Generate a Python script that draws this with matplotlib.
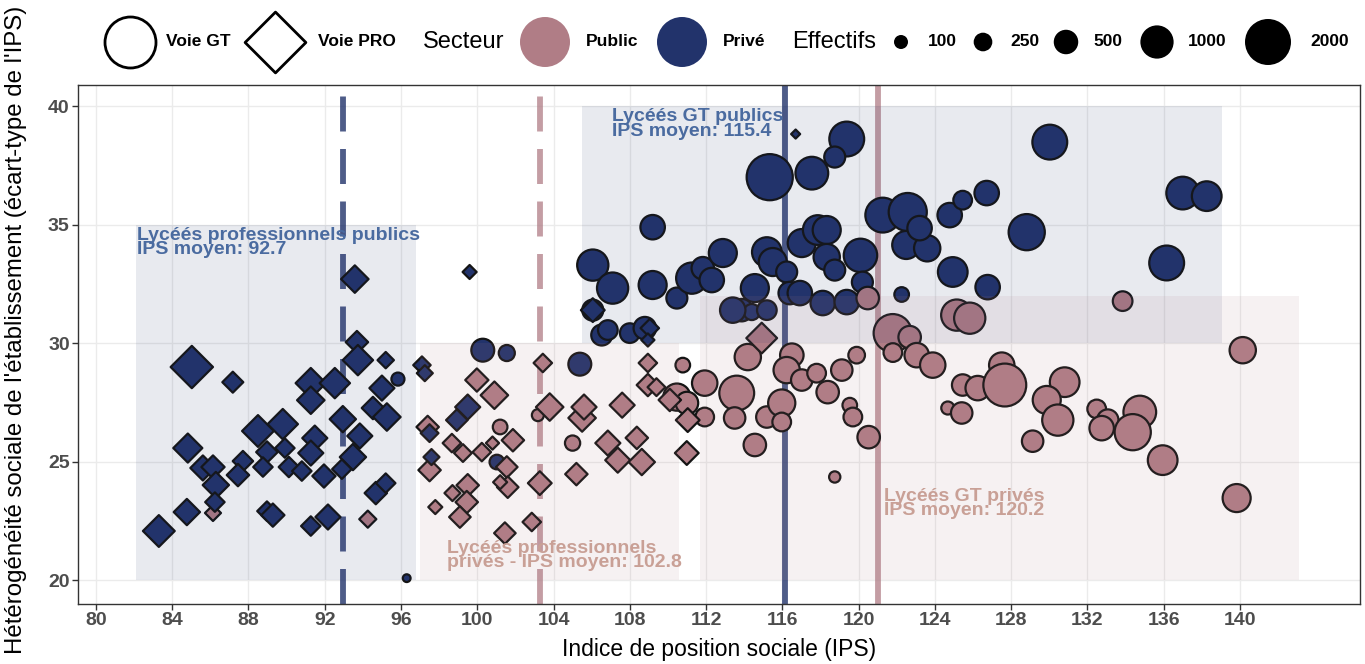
import numpy as np
import matplotlib
matplotlib.use('Agg')
import matplotlib.pyplot as plt
import matplotlib.patches as patches

plt.rcParams['font.family'] = ['Liberation Sans', 'DejaVu Sans']

NAVY = '#22336b'
PINK = '#b07d86'
EDGE = '#141414'

# --- data (IPS, heterogeneity, headcount) ---
# Voie PRO, secteur privé (navy diamonds)
pro_prive_ips = [93.58, 85.03, 87.18, 93.69, 93.74, 95.2, 97.1, 97.25, 91.27, 92.53,
                 91.27, 95.0, 94.53, 95.26, 92.95, 93.84, 88.5, 89.8, 91.48, 84.82,
                 87.71, 88.97, 89.91, 91.27, 93.48, 85.61, 86.14, 87.45, 88.76, 90.12,
                 90.8, 91.96, 92.9, 86.29, 86.24, 94.68, 95.2, 84.77, 88.97, 89.28,
                 83.3, 91.27, 92.17, 97.5, 97.6, 99.6, 99.5, 98.93, 106.06, 109.05,
                 108.95, 116.7]
pro_prive_het = [32.7, 28.99, 28.35, 30.04, 29.28, 29.28, 29.07, 28.73, 28.31, 28.31,
                 27.59, 28.1, 27.26, 26.88, 26.79, 26.08, 26.29, 26.58, 25.99, 25.57,
                 25.02, 25.4, 25.57, 25.36, 25.19, 24.73, 24.77, 24.43, 24.77, 24.77,
                 24.6, 24.39, 24.68, 24.01, 23.29, 23.67, 24.09, 22.87, 22.91, 22.74,
                 22.07, 22.28, 22.66, 26.2, 25.19, 33.0, 27.3, 26.75, 31.39, 30.63,
                 30.13, 38.82]
pro_prive_eff = [550, 1350, 300, 350, 680, 160, 190, 150, 680, 680,
                 550, 450, 350, 550, 500, 450, 750, 680, 450, 620,
                 280, 320, 250, 450, 500, 450, 380, 350, 250, 280,
                 250, 380, 250, 500, 250, 350, 250, 500, 250, 380,
                 750, 250, 450, 200, 150, 100, 450, 320, 400, 220,
                 80, 0]

# Voie PRO, secteur public (pink diamonds)
pro_public_ips = [86.14, 94.26, 97.8, 97.4, 97.5, 103.44, 108.95, 99.98, 100.9, 103.8,
                  105.5, 105.6, 107.6, 108.95, 109.4, 110.1, 111.04, 98.67, 99.25, 100.24,
                  101.87, 100.8, 101.55, 101.6, 101.2, 105.2, 103.28, 106.85, 108.37, 107.37,
                  108.63, 110.99, 99.5, 98.7, 99.45, 99.09, 101.45, 102.86, 114.92]
pro_public_het = [22.83, 22.57, 23.08, 26.46, 24.64, 29.16, 29.16, 28.44, 27.8, 27.3,
                  26.84, 27.3, 27.38, 28.23, 28.14, 27.6, 26.75, 25.78, 25.36, 25.4,
                  25.9, 25.78, 24.77, 23.92, 24.13, 24.47, 24.09, 25.78, 26.0, 25.06,
                  24.98, 25.36, 24.0, 23.67, 23.29, 22.66, 21.98, 22.45, 30.21]
pro_public_eff = [150, 180, 100, 350, 350, 220, 220, 380, 550, 550,
                  550, 450, 450, 350, 200, 350, 400, 220, 200, 220,
                  350, 80, 320, 320, 100, 350, 400, 450, 350, 450,
                  500, 400, 350, 150, 350, 320, 320, 220, 700]

# Voie GT, secteur privé (navy circles)
gt_prive_ips = [95.84, 96.3, 100.29, 101.55, 105.38, 101.03, 109.2, 106.06, 107.1, 106.06,
                106.53, 106.85, 108.0, 108.79, 109.2, 110.47, 111.25, 111.83, 112.88, 112.3,
                114.56, 113.87, 114.4, 115.19, 113.4, 115.19, 115.5, 116.23, 116.39, 116.92,
                117.02, 117.86, 118.33, 118.33, 118.75, 118.12, 119.38, 120.1, 120.2, 122.26,
                119.38, 118.75, 117.55, 115.34, 121.27, 122.58, 122.5, 123.6, 123.2, 124.78,
                125.46, 124.94, 126.72, 126.77, 130.03, 128.82, 137.0, 138.26, 136.16]
gt_prive_het = [28.48, 20.08, 29.7, 29.58, 29.11, 24.98, 34.89, 33.29, 32.32, 31.39,
                30.34, 30.55, 30.42, 30.63, 32.45, 31.9, 32.74, 33.16, 33.8, 32.66,
                32.32, 31.39, 31.31, 31.39, 31.39, 33.84, 33.42, 33.0, 32.11, 32.11,
                34.22, 34.77, 34.77, 33.63, 33.08, 31.69, 31.73, 33.7, 32.57, 32.05,
                38.61, 37.85, 37.17, 37.0, 35.4, 35.53, 34.14, 34.0, 34.85, 35.4,
                36.03, 33.0, 36.33, 32.36, 38.48, 34.68, 36.33, 36.2, 33.38]
gt_prive_eff = [130, 0, 520, 230, 520, 180, 600, 1000, 1000, 430,
                430, 370, 370, 500, 800, 430, 1000, 500, 800, 600,
                800, 500, 230, 370, 650, 900, 800, 430, 500, 600,
                800, 900, 800, 700, 430, 600, 600, 1150, 430, 180,
                1250, 430, 1100, 2200, 1250, 1500, 800, 700, 600, 600,
                330, 900, 600, 600, 1250, 1350, 1100, 900, 1250]

# Voie GT, secteur public (pink circles)
gt_public_ips = [103.18, 101.2, 105.0, 110.78, 111.93, 110.47, 111.0, 111.93, 113.61, 113.5,
                 114.56, 115.19, 115.97, 115.97, 114.19, 116.5, 116.23, 117.02, 117.8, 119.12,
                 119.9, 118.38, 119.54, 119.7, 120.53, 118.75, 120.48, 121.79, 122.68, 121.8,
                 123.05, 123.89, 125.15, 125.83, 127.51, 125.46, 126.25, 127.67, 124.68, 125.41,
                 129.13, 133.85, 140.15, 130.81, 129.87, 130.45, 132.49, 133.07, 132.75, 134.75,
                 134.38, 135.95, 139.83]
gt_public_het = [26.96, 26.46, 25.78, 29.07, 28.31, 27.72, 27.47, 26.88, 27.89, 26.84,
                 25.7, 26.88, 27.47, 26.67, 29.41, 29.49, 28.86, 28.44, 28.73, 28.86,
                 29.49, 27.93, 27.38, 26.88, 26.03, 24.35, 31.9, 30.42, 30.25, 29.6,
                 29.49, 29.07, 31.18, 31.05, 29.07, 28.23, 28.1, 28.23, 27.26, 27.05,
                 25.86, 31.77, 29.7, 28.35, 27.6, 26.75, 27.22, 26.75, 26.41, 27.09,
                 26.24, 25.06, 23.46]
gt_public_eff = [100, 180, 200, 180, 650, 750, 500, 330, 1250, 450,
                 500, 450, 750, 330, 700, 550, 700, 450, 330, 450,
                 250, 500, 180, 330, 500, 80, 500, 1500, 500, 330,
                 600, 650, 1000, 1000, 650, 450, 600, 1900, 130, 450,
                 450, 370, 700, 900, 800, 1000, 330, 450, 600, 1100,
                 1350, 900, 800]

# group zones (xmin, xmax, ymin, ymax)
zone_pro_public = (82.1, 96.8, 20.0, 35.0)
zone_pro_prive = (97.0, 110.6, 20.0, 30.0)
zone_gt_public = (105.5, 139.05, 30.0, 40.0)
zone_gt_prive = (111.7, 143.1, 20.0, 32.0)
# where the mean lines sit on the chart (labels quote the printed means)
line_pro_public = 92.97
line_pro_prive = 103.28
line_gt_public = 116.13
line_gt_prive = 121.02

legend_eff = [100, 250, 500, 1000, 2000]


def size_of(eff, edge=2):
    # marker area (points^2) growing linearly with headcount
    eff = np.asarray(eff, dtype=float)
    d_px = np.sqrt(95 + 1.01 * eff) - edge
    return (d_px * 0.72) ** 2


fig = plt.figure(figsize=(13.65, 6.64), dpi=100)
ax = fig.add_axes([78 / 1365, 60 / 664, 1282 / 1365, 519 / 664])

# mean lines (under the points)
ax.axvline(line_pro_public, color=NAVY, alpha=0.8, lw=4.2, ls=(0, (6, 3)), zorder=2)
ax.axvline(line_pro_prive, color=PINK, alpha=0.75, lw=4.2, ls=(0, (6, 3)), zorder=2)
ax.axvline(line_gt_public, color=NAVY, alpha=0.8, lw=4.2, zorder=2)
ax.axvline(line_gt_prive, color=PINK, alpha=0.75, lw=4.2, zorder=2)

pt = dict(edgecolors=EDGE, linewidths=1.6, zorder=3)
ax.scatter(gt_prive_ips, gt_prive_het, s=size_of(gt_prive_eff), marker='o', c=NAVY, **pt)
ax.scatter(gt_public_ips, gt_public_het, s=size_of(gt_public_eff), marker='o', c=PINK, **pt)
ax.scatter(pro_public_ips, pro_public_het, s=size_of(pro_public_eff) * 0.685, marker='D', c=PINK, **pt)
ax.scatter(pro_prive_ips, pro_prive_het, s=size_of(pro_prive_eff) * 0.685, marker='D', c=NAVY, **pt)

# shaded zones on top
for (x0, x1, y0, y1), col in [(zone_pro_public, NAVY), (zone_pro_prive, PINK),
                              (zone_gt_public, NAVY), (zone_gt_prive, PINK)]:
    ax.add_patch(patches.Rectangle((x0, y0), x1 - x0, y1 - y0, facecolor=col,
                                   edgecolor='none', alpha=0.1, zorder=4))

BLUE_TXT = '#4a6ba0'
PINK_TXT = '#c9a096'
lab = dict(fontsize=14, fontweight='bold', va='top', ha='left', linespacing=0.8, zorder=5)
ax.text(82.15, 34.9, "Lycéés professionnels publics\nIPS moyen: 92.7", color=BLUE_TXT, **lab)
ax.text(107.06, 39.9, "Lycéés GT publics\nIPS moyen: 115.4", color=BLUE_TXT, **lab)
ax.text(98.4, 21.7, "Lycéés professionnels\nprivés - IPS moyen: 102.8", color=PINK_TXT, **lab)
ax.text(121.32, 23.9, "Lycéés GT privés\nIPS moyen: 120.2", color=PINK_TXT, **lab)

ax.set_xlim(79.06, 146.3)
ax.set_ylim(18.99, 40.89)
ax.set_xticks(np.arange(80, 141, 4))
ax.set_yticks([20, 25, 30, 35, 40])
ax.grid(True, color='#ebebeb', lw=1.0, zorder=0)
ax.set_axisbelow(True)
for sp in ax.spines.values():
    sp.set_color('#333333')
    sp.set_linewidth(1.0)
ax.tick_params(length=4, width=1, color='#333333', labelsize=14,
               labelcolor='#4d4d4d', pad=2)
for t in ax.get_xticklabels() + ax.get_yticklabels():
    t.set_fontweight('bold')

ax.set_xlabel("Indice de position sociale (IPS)", fontsize=16.5)
ax.set_ylabel("Hétérogénéité sociale de l'établissement (écart-type de l'IPS)", fontsize=17.3)
ax.xaxis.set_label_coords(0.5, -0.066)
ax.yaxis.set_label_coords(-0.040, 0.528)

# legend strip at the top, laid out in pixels
lg = fig.add_axes([0, 584 / 664, 1, 80 / 664])
lg.set_xlim(0, 1365)
lg.set_ylim(80, 0)
lg.axis('off')
yc = 42
key = dict(edgecolors='black', linewidths=2, clip_on=False)
lg.scatter([130], [yc], s=(51 * 0.72) ** 2, marker='o', c='white', **key)
lg.scatter([275], [yc], s=(43 * 0.72) ** 2, marker='D', c='white', **key)
lg.scatter([545], [yc], s=(50 * 0.72) ** 2, marker='o', c=PINK, edgecolors='none', clip_on=False)
lg.scatter([682], [yc], s=(50 * 0.72) ** 2, marker='o', c=NAVY, edgecolors='none', clip_on=False)
eff_x = [901, 983, 1066, 1157, 1268]
lg.scatter(eff_x, [yc] * len(eff_x), s=size_of(legend_eff, edge=0), marker='o', c='black',
           edgecolors='none', clip_on=False)

bold = dict(fontsize=12.5, fontweight='bold', va='center', ha='left')
lg.text(166, yc, "Voie GT", **bold)
lg.text(318, yc, "Voie PRO", **bold)
lg.text(423, yc, "Secteur", fontsize=17, va='center', ha='left')
lg.text(586, yc, "Public", **bold)
lg.text(723, yc, "Privé", **bold)
lg.text(792, yc, "Effectifs", fontsize=17, va='center', ha='left')
for xl, e in zip([928, 1010, 1093, 1188, 1310], legend_eff):
    lg.text(xl, yc, str(e), **bold)

fig.savefig("out.png", dpi=100)
